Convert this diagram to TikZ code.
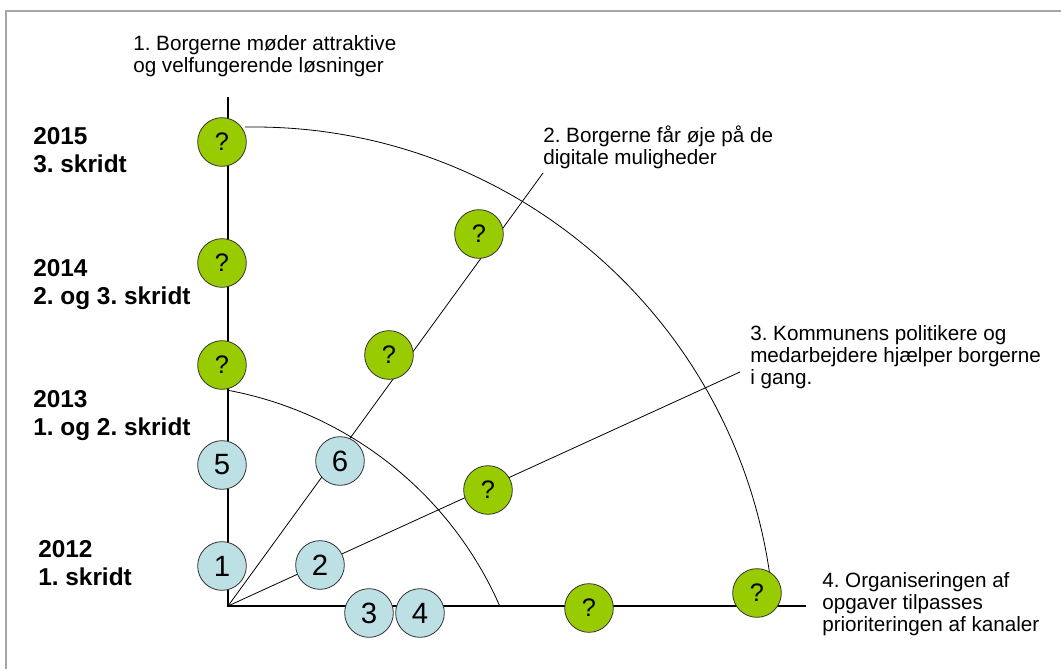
\documentclass[tikz,border=0pt]{standalone}
\usepackage{fontspec}
\setmainfont{Liberation Sans}
\usepackage{tikz}
\usetikzlibrary{positioning}
\frenchspacing
\definecolor{qgreen}{RGB}{153,204,0}
\definecolor{stepblue}{RGB}{188,224,228}
\tikzstyle{open} = [circle, draw=black!80, line width=0.6pt, fill=qgreen, minimum size=36.5pt, inner sep=0pt, font=\fontsize{19}{19}\selectfont]
\tikzstyle{done} = [circle, draw=black!80, line width=0.6pt, fill=stepblue, minimum size=36.5pt, inner sep=0pt, font=\fontsize{22}{22}\selectfont]
\tikzstyle{goal} = [anchor=north west, align=left, inner sep=0pt, font=\fontsize{15.5}{16.5}\selectfont]
\tikzstyle{year} = [anchor=north west, align=left, inner sep=0pt, font=\bfseries\fontsize{18.3}{21}\selectfont]
\tikzstyle{track} = [line width=0.6pt]
\tikzstyle{axis} = [line width=0.9pt]
\tikzstyle{frame} = [gray!70, line width=0.9pt]

\begin{document}
\begin{tikzpicture}[x=0.75pt, y=0.75pt]
        \useasboundingbox (0,0) rectangle (1061,669);
        \draw[frame] (6,0) -- (6,658) -- (1061,658);
        % axes and tracks
        \coordinate (o) at (228,63);
        \coordinate (t1) at (228,572);
        \coordinate (t2) at (543,496);
        \coordinate (t3) at (740,297);
        \coordinate (t4) at (806,63);
        \draw[axis] (t1) -- (o) -- (t4);
        \draw[track] (o) -- (t2);
        \draw[track] (o) -- (t3);
        % rings
        \coordinate (c13) at (160,-86);
        \coordinate (c15) at (254,21);
        \draw[track] (c13) ++(79.4:371) arc[start angle=79.4, end angle=23.7, radius=371];
        \draw[track] (c15) ++(91:521) arc[start angle=91, end angle=7.7, radius=521];
        % steps
        \node[open] (y15) at (222,527) {?};
        \node[open] (y14) at (222,406) {?};
        \node[open] (y13) at (222,304) {?};
        \node[done] (s5) at (222,204) {5};
        \node[done] (s1) at (222,103) {1};
        \node[done] (s6) at (340,208) {6};
        \node[done] (s2) at (320,104) {2};
        \node[done] (s3) at (369,56) {3};
        \node[done] (s4) at (420,56) {4};
        \node[open] (d1) at (389,314) {?};
        \node[open] (d2) at (479,435) {?};
        \node[open] (k1) at (488,179) {?};
        \node[open] (h1) at (589,61) {?};
        \node[open] (h2) at (757,76) {?};
        % labels
        \node[goal] (g1) at (133,633.6) {1. Borgerne møder attraktive\\og velfungerende løsninger};
        \node[goal] (g2) at (543,543.5) {2. Borgerne får øje på de\\digitale muligheder};
        \node[goal] (g3) at (750,344) {3. Kommunens politikere og\\medarbejdere hjælper borgerne\\i gang.};
        \node[goal] (g4) at (822,97.2) {4. Organiseringen af\\opgaver tilpasses\\prioriteringen af kanaler};
        \node[year] (a15) at (33,541.5) {2015\\3. skridt};
        \node[year] (a14) at (33,409.5) {2014\\2. og 3. skridt};
        \node[year] (a13) at (33,278.5) {2013\\1. og 2. skridt};
        \node[year] (a12) at (38,128.5) {2012\\1. skridt};
    \end{tikzpicture}
\end{document}
